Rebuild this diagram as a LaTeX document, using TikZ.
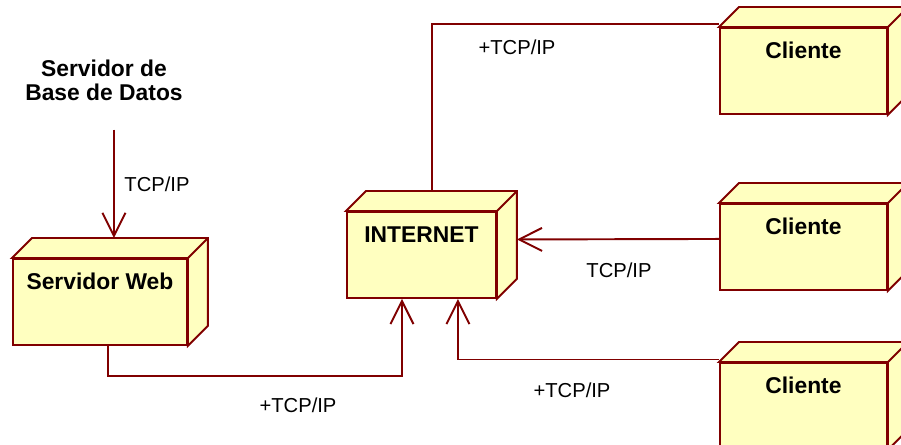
\documentclass[tikz,border=0pt]{standalone}
\usepackage{fontspec}
\setmainfont{Liberation Sans}
\usepackage{xcolor}
\usepackage{tikz}
\usetikzlibrary{arrows.meta, positioning}

\definecolor{umlline}{RGB}{128,0,0}
\definecolor{umlfill}{RGB}{255,255,192}

\begin{document}
\begin{tikzpicture}[
    x=0.02cm, y=-0.02cm,
    box/.style={rectangle, draw=umlline, fill=umlfill, line width=1.1pt, inner sep=0pt, anchor=north west, text height=0.62cm, text depth=1.1cm, font=\fontsize{13}{15}\selectfont\bfseries},
    face/.style={draw=umlline, fill=umlfill, line width=1.1pt},
    edge/.style={draw=umlline, line width=1.1pt},
    arrow/.style={edge, -{Straight Barb[length=0.46cm, width=0.46cm]}},
    tag/.style={font=\fontsize{11.5}{13.8}\selectfont}
]
    \clip (0,0) rectangle (901,445);

    % Nodes
    \node (db) [align=center, font=\fontsize{13}{13.7}\selectfont\bfseries] at (104,80) {Servidor de\\Base de Datos};
    \node (web) [box, minimum width=3.48cm] at (12,258) {Servidor Web};
    \node (inet) [box, minimum width=2.98cm] at (346,211) {INTERNET};
    \node (cli1) [box, minimum width=3.34cm] at (719,27) {Cliente};
    \node (cli2) [box, minimum width=3.34cm] at (719,203) {Cliente};
    \node (cli3) [box, minimum width=3.34cm] at (719,362) {Cliente};

    % Depth faces
    \foreach \n in {web,inet,cli1,cli2,cli3} {
        \draw[face] (\n.north west) -- ++(20,-20) -| ([shift={(20,-20)}]\n.south east) -- (\n.south east) -- (\n.north east) -- cycle;
        \draw[face] (\n.north east) -- ++(20,-20);
    }

    % Labels
    \node (tagdb) [tag] at (157,184) {TCP/IP};
    \node (tagweb) [tag] at (298,405) {+TCP/IP};
    \node (tagc1) [tag] at (517,47) {+TCP/IP};
    \node (tagc2) [tag] at (619,270) {TCP/IP};
    \node (tagc3) [tag] at (572,390) {+TCP/IP};

    % Arrows
    \coordinate (webin) at ([xshift=0.28cm,yshift=0.4cm]web.north);
    \draw[arrow] (db.south -| webin) ++(0,23) -- (webin);
    \draw[arrow] ([xshift=0.16cm]web.south) -- ++(0,30) -| ([xshift=-0.39cm]inet.south);
    \draw[edge] ([yshift=0.06cm]cli1.north west) -| ([xshift=0.21cm,yshift=0.4cm]inet.north);
    \draw[arrow] ([yshift=0.16cm]cli2.west) -- ([xshift=0.4cm,yshift=0.31cm]inet.east);
    \draw[arrow] ([yshift=0.05cm]cli3.north west) -| ([xshift=0.73cm]inet.south);

\end{tikzpicture}
\end{document}
